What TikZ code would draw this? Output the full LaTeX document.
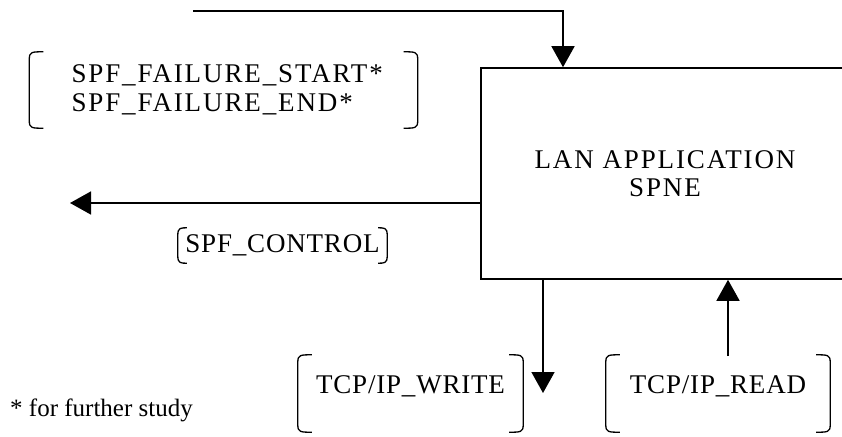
\documentclass[tikz,border=0pt]{standalone}
\usepackage{fontspec}
\setmainfont{Liberation Serif}
\newfontfamily\capsfont{Liberation Serif}[LetterSpace=7]
\newfontfamily\tightfont{Liberation Serif}[LetterSpace=3]
\usetikzlibrary{positioning, arrows.meta}

\newcommand\brackets[2][14pt]{%
  \draw[brk] ([xshift=#1]#2.north west) .. controls ([xshift=3pt]#2.north west) and (#2.north west) .. ([yshift=-7pt]#2.north west)
    -- ([yshift=7pt]#2.south west) .. controls (#2.south west) and ([xshift=3pt]#2.south west) .. ([xshift=#1]#2.south west);
  \draw[brk] ([xshift=-#1]#2.north east) .. controls ([xshift=-3pt]#2.north east) and (#2.north east) .. ([yshift=-7pt]#2.north east)
    -- ([yshift=7pt]#2.south east) .. controls (#2.south east) and ([xshift=-3pt]#2.south east) .. ([xshift=-#1]#2.south east);
}

\begin{document}
\begin{tikzpicture}[
  x=1pt, y=-1pt,
  every node/.style={font=\fontsize{25}{28}\selectfont},
  lbl/.style={font=\fontsize{27}{28.5}\selectfont\capsfont, inner xsep=0pt},
  tight/.style={font=\fontsize{27}{28.5}\selectfont\tightfont, inner xsep=0pt},
  arr/.style={-{Triangle[length=21pt, width=23pt]}, line width=1.6pt},
  brk/.style={line width=1.3pt},
  io/.style={tight, text height=18pt, text depth=19pt, inner ysep=20pt}
]
  \clip (0,0) rectangle (842,436);

  \node[draw, line width=1.6pt, lbl, align=center, minimum width=368pt, minimum height=211pt] (spne) at (665,173.5) {LAN APPLICATION\\SPNE};

  \node[lbl, align=left, text width=304pt, inner xsep=42pt, minimum height=76pt] (fail) at (223.5,90) {SPF\_FAILURE\_START*\\SPF\_FAILURE\_END*};
  \node[tight, minimum width=209pt, minimum height=35pt] (ctrl) at (282.5,245.5) {SPF\_CONTROL};
  \node[io, minimum width=225pt] (write) at (410.5,393.5) {TCP/IP\_WRITE};
  \node[io, minimum width=224pt] (read) at (718,393.5) {TCP/IP\_READ};
  \node[anchor=west, inner sep=0pt] (note) at (10,410) {* for further study};

  \coordinate (feed) at (193,11);
  \coordinate (out) at (70,203);
  \coordinate (wr) at (543,393);
  \coordinate (rd) at (728,356);

  \draw[arr] (feed) -| ([xshift=-102pt]spne.north);
  \draw[arr] (spne.west |- out) -- (out);
  \draw[arr] (spne.south -| wr) -- (wr);
  \draw[arr] (rd) -- (spne.south -| rd);

  \brackets{fail}
  \brackets[9pt]{ctrl}
  \brackets{write}
  \brackets{read}
\end{tikzpicture}
\end{document}
